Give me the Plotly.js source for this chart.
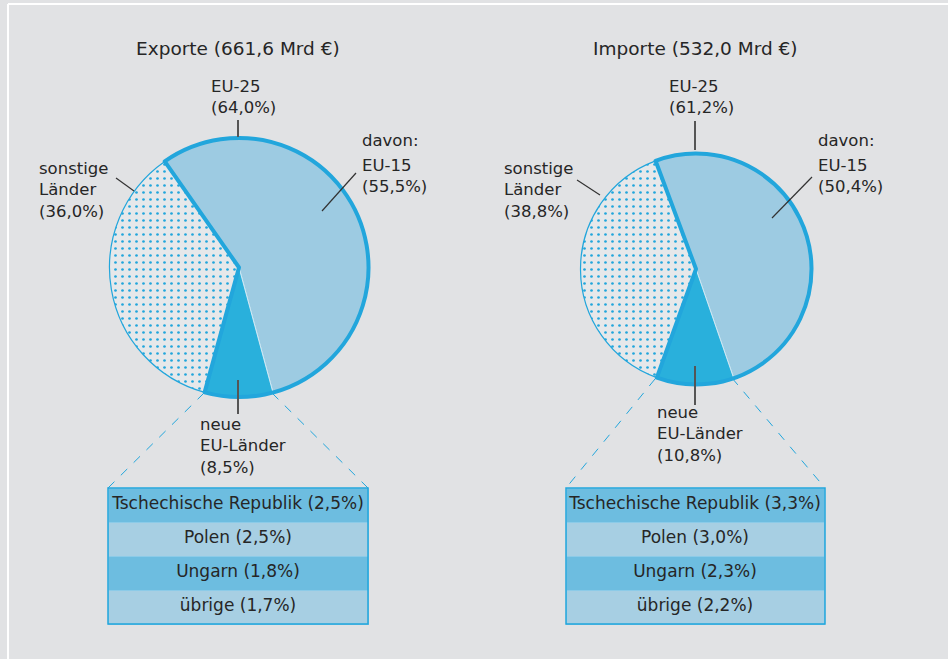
<!DOCTYPE html>
<html>
<head>
<meta charset="utf-8">
<script src="https://cdn.plot.ly/plotly-3.0.1.min.js"></script>
<style>html,body{margin:0;padding:0;background:#e1e2e4;}#chart{width:948px;height:659px;}</style>
</head>
<body>
<div id="chart"></div>
<script>
// ---- data ----
const pieLabels = ["EU-15", "neue EU-Länder", "sonstige Länder"];
const exportValues = [55.5, 8.5, 36.0];
const importValues = [50.4, 10.8, 38.8];
const groupLabels = ["EU-25", "sonstige Länder"];
const exportGroup = [64.0, 36.0];
const importGroup = [61.2, 38.8];
const exportTotal = "661,6";
const importTotal = "532,0";
const newMembers = ["Tschechische Republik", "Polen", "Ungarn", "übrige"];
const exportNew = ["2,5", "2,5", "1,8", "1,7"];
const importNew = ["3,3", "3,0", "2,3", "2,2"];
const exportPct = {eu25: "64,0", eu15: "55,5", neu: "8,5", sonst: "36,0"};
const importPct = {eu25: "61,2", eu15: "50,4", neu: "10,8", sonst: "38,8"};

// ---- helpers ----
const W = 948, H = 659;
const px = x => x / W;
const py = y => 1 - y / H;
const BLUE = "#22a6dc";
const TXT = "#262626";
const FONT = "DejaVu Sans";

function pieDomain(cx, cy, r) {
  return {x: [px(cx - r), px(cx + r)], y: [py(cy + r), py(cy - r)]};
}

function basePie(values, dom, rot) {
  return {
    type: "pie", labels: pieLabels, values: values, sort: false,
    direction: "clockwise", rotation: rot, domain: dom,
    textinfo: "none", hoverinfo: "label+value", showlegend: false,
    marker: {
      colors: ["#9dcbe2", "#29b0dc", "#e6e8ea"],
      line: {color: ["#cfe8f4", "#cfe8f4", BLUE], width: [1, 1, 1.2]},
      pattern: {shape: ["", "", "."], fgcolor: BLUE, bgcolor: "#e6e8ea", size: 7, solidity: 0.12}
    }
  };
}
function groupPie(values, dom, rot) {
  return {
    type: "pie", labels: groupLabels, values: values, sort: false,
    direction: "clockwise", rotation: rot, domain: dom,
    textinfo: "none", hoverinfo: "skip", showlegend: false,
    marker: {colors: ["rgba(0,0,0,0)", "rgba(0,0,0,0)"], line: {color: [BLUE, "rgba(0,0,0,0)"], width: [4, 0]}}
  };
}
function table(names, vals, x0, x1, y0, y1) {
  // non-breaking spaces keep each entry on one line
  const txt = names.map((n, i) => (n + " (" + vals[i] + "%)").replace(/ /g, "\u00a0"));
  return {
    type: "table",
    domain: {x: [px(x0), px(x1)], y: [py(y1), py(y0)]},
    header: {values: [[txt[0]]], height: 34, align: "center",
      fill: {color: "#6dbde0"}, line: {color: "#8ccbe8", width: 1},
      font: {family: FONT, size: 17, color: TXT}},
    cells: {values: [txt.slice(1)], height: 34, align: "center",
      fill: {color: [["#a7cfe3", "#6dbde0", "#a7cfe3"]]}, line: {color: "#8ccbe8", width: 1},
      font: {family: FONT, size: 17, color: TXT}},
    columnwidth: [1]
  };
}

const expDom = pieDomain(239, 267.5, 129.5);
const impDom = pieDomain(696, 269, 115.5);
const expRot = -35, impRot = -20.5;

const data = [
  basePie(exportValues, expDom, expRot), groupPie(exportGroup, expDom, expRot),
  basePie(importValues, impDom, impRot), groupPie(importGroup, impDom, impRot),
  table(newMembers, exportNew, 108, 368, 488, 626),
  table(newMembers, importNew, 566, 825, 488, 626)
];

function ann(x, y, text, xanchor, size) {
  return {xref: "paper", yref: "paper", x: px(x), y: py(y), text: text, showarrow: false,
    xanchor: xanchor || "left", yanchor: "top", align: xanchor === "center" ? "center" : "left",
    font: {family: FONT, size: size || 16.5, color: TXT}};
}
function line(x0, y0, x1, y1, color, width, dash) {
  return {type: "line", xref: "paper", yref: "paper", x0: px(x0), y0: py(y0), x1: px(x1), y1: py(y1),
    line: {color: color, width: width, dash: dash || "solid"}, layer: "above"};
}

const annotations = [
  ann(238, 36, "Exporte (" + exportTotal + " Mrd €)", "center", 18.5),
  ann(695, 36, "Importe (" + importTotal + " Mrd €)", "center", 18.5),
  ann(209, 75, "EU-25<br>(" + exportPct.eu25 + "%)"),
  ann(360, 129, "davon:"),
  ann(360, 154, "EU-15<br>(" + exportPct.eu15 + "%)"),
  ann(37, 157, "sonstige<br>Länder<br>(" + exportPct.sonst + "%)"),
  ann(198, 413, "neue<br>EU-Länder<br>(" + exportPct.neu + "%)"),
  ann(667, 75, "EU-25<br>(" + importPct.eu25 + "%)"),
  ann(816, 129, "davon:"),
  ann(816, 154, "EU-15<br>(" + importPct.eu15 + "%)"),
  ann(502, 157, "sonstige<br>Länder<br>(" + importPct.sonst + "%)"),
  ann(655, 401, "neue<br>EU-Länder<br>(" + importPct.neu + "%)")
];

const shapes = [
  // white frame
  line(8, 4, 948, 4, "#ffffff", 2),
  line(8, 4, 8, 659, "#ffffff", 2),
  // leader lines export
  line(238, 120, 238, 137, "#555555", 2),
  line(356, 173, 322, 211, "#333333", 1.2),
  line(116, 178, 134, 191, "#333333", 1.2),
  line(238, 380, 238, 414, "#555555", 2),
  // leader lines import
  line(695, 121, 695, 150, "#555555", 2),
  line(812, 177, 772, 218, "#333333", 1.2),
  line(577, 180, 600, 195, "#333333", 1.2),
  line(695, 366, 695, 405, "#555555", 2),
  // dashed connectors
  line(204, 393, 108, 488, BLUE, 1, "dash"),
  line(272, 393, 368, 488, BLUE, 1, "dash"),
  line(655, 379, 566, 488, BLUE, 1, "dash"),
  line(732, 378, 825, 488, BLUE, 1, "dash"),
  // table outer borders
  {type: "rect", xref: "paper", yref: "paper", x0: px(108), x1: px(368), y0: py(624), y1: py(488), line: {color: BLUE, width: 1.5}, layer: "above"},
  {type: "rect", xref: "paper", yref: "paper", x0: px(566), x1: px(825), y0: py(624), y1: py(488), line: {color: BLUE, width: 1.5}, layer: "above"}
];

const layout = {
  width: W, height: H, margin: {l: 0, r: 0, t: 0, b: 0},
  paper_bgcolor: "#e1e2e4", plot_bgcolor: "#e1e2e4",
  showlegend: false, annotations: annotations, shapes: shapes,
  font: {family: FONT, color: TXT}
};
Plotly.newPlot("chart", data, layout, {displayModeBar: false, staticPlot: true});
</script>
</body>
</html>
